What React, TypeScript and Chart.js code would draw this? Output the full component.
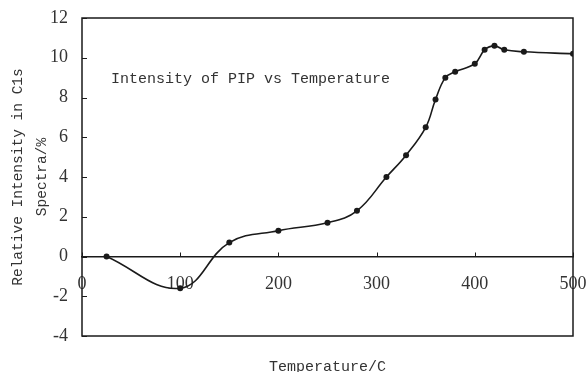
import React, { useEffect, useRef } from "react";
import { Chart, registerables } from "chart.js";

Chart.register(...registerables);

const temperatures = [25, 100, 150, 200, 250, 280, 310, 330, 350, 360, 370, 380, 400, 410, 420, 430, 450, 500];
const intensities = [0, -1.6, 0.7, 1.3, 1.7, 2.3, 4.0, 5.1, 6.5, 7.9, 9.0, 9.3, 9.7, 10.4, 10.6, 10.4, 10.3, 10.2];
const xTickValues = [0, 100, 200, 300, 400, 500];
const yTickValues = [-4, -2, 0, 2, 4, 6, 8, 10, 12];
const annotationText = "Intensity of PIP vs Temperature";
const xTitle = "Temperature/C";
const yTitle = ["Relative Intensity in C1s", "Spectra/%"];

const INK = "#1a1a1a";
const TEXT = "#333333";
const MONO = "'Liberation Mono', 'DejaVu Sans Mono', monospace";
const SERIF = "'Liberation Serif', 'DejaVu Serif', serif";

const framePlugin = {
  id: "frameAndInnerTicks",
  beforeDatasetsDraw(chart: any) {
    const { ctx, chartArea } = chart;
    const xs = chart.scales.x;
    const ys = chart.scales.y;
    ctx.save();
    ctx.strokeStyle = INK;
    ctx.lineWidth = 1.5;
    ctx.strokeRect(chartArea.left, chartArea.top, chartArea.right - chartArea.left, chartArea.bottom - chartArea.top);
    ctx.lineWidth = 1;
    ctx.beginPath();
    for (const v of yTickValues) {
      const py = Math.round(ys.getPixelForValue(v)) + 0.5;
      ctx.moveTo(chartArea.left, py);
      ctx.lineTo(chartArea.left + 5, py);
    }
    const y0 = ys.getPixelForValue(0);
    for (const v of xTickValues) {
      const px = Math.round(xs.getPixelForValue(v)) + 0.5;
      ctx.moveTo(px, y0);
      ctx.lineTo(px, y0 - 4);
    }
    ctx.stroke();
    ctx.restore();
  },
  afterDraw(chart: any) {
    const { ctx, chartArea } = chart;
    ctx.save();
    ctx.fillStyle = TEXT;
    ctx.font = `15px ${MONO}`;
    ctx.textAlign = "left";
    ctx.textBaseline = "middle";
    ctx.fillText(annotationText, chartArea.left + 29, chartArea.top + 61);
    ctx.restore();
  },
};

export default function App() {
  const canvasRef = useRef<HTMLCanvasElement | null>(null);

  useEffect(() => {
    if (!canvasRef.current) return;
    const chart = new Chart(canvasRef.current, {
      type: "line",
      data: {
        datasets: [
          {
            label: annotationText,
            data: temperatures.map((t, i) => ({ x: t, y: intensities[i] })),
            borderColor: INK,
            backgroundColor: INK,
            borderWidth: 1.6,
            pointRadius: 3,
            pointBackgroundColor: INK,
            pointBorderWidth: 0,
            tension: 0.4,
            fill: false,
          },
        ],
      },
      options: {
        animation: false,
        responsive: true,
        maintainAspectRatio: false,
        layout: { padding: { top: 18, right: 14, bottom: 0, left: 0 } },
        plugins: { legend: { display: false }, tooltip: { enabled: false } },
        scales: {
          x: {
            type: "linear",
            position: { y: 0 } as any,
            min: 0,
            max: 500,
            afterBuildTicks: (scale: any) => {
              scale.ticks = xTickValues.map((v) => ({ value: v }));
            },
            afterFit: (scale: any) => {
              scale.paddingLeft = 0;
              scale.paddingRight = 0;
            },
            grid: { display: true, drawOnChartArea: false, drawTicks: false },
            border: { display: true, color: INK, width: 1.5 },
            ticks: {
              color: TEXT,
              padding: 17,
              font: { family: SERIF, size: 18 },
              maxRotation: 0,
            },
          },
          x2: {
            type: "linear",
            position: "bottom",
            min: 0,
            max: 500,
            grid: { display: false },
            border: { display: false },
            ticks: { display: false },
            afterFit: (scale: any) => {
              scale.height = 36;
              scale.paddingLeft = 0;
              scale.paddingRight = 0;
            },
            title: {
              display: true,
              text: xTitle,
              color: TEXT,
              font: { family: MONO, size: 15, lineHeight: "10px" },
              padding: { top: 0, bottom: 0 },
            },
          },
          y: {
            type: "linear",
            position: "left",
            min: -4,
            max: 12,
            afterBuildTicks: (scale: any) => {
              scale.ticks = yTickValues.map((v) => ({ value: v }));
            },
            afterFit: (scale: any) => {
              scale.width = 82;
              scale.paddingTop = 0;
              scale.paddingBottom = 0;
            },
            grid: { display: false, drawTicks: false },
            border: { display: false },
            ticks: {
              color: TEXT,
              padding: 14,
              font: { family: SERIF, size: 18 },
            },
            title: {
              display: true,
              text: yTitle,
              color: TEXT,
              font: { family: MONO, size: 14.5, lineHeight: "24px" },
              padding: { top: 6, bottom: 0 },
            },
          },
        },
      },
      plugins: [framePlugin],
    });
    return () => chart.destroy();
  }, []);

  return (
    <div style={{ position: "fixed", left: 0, top: 0, width: 587, height: 372, background: "#fff" }}>
      <canvas ref={canvasRef} />
    </div>
  );
}
